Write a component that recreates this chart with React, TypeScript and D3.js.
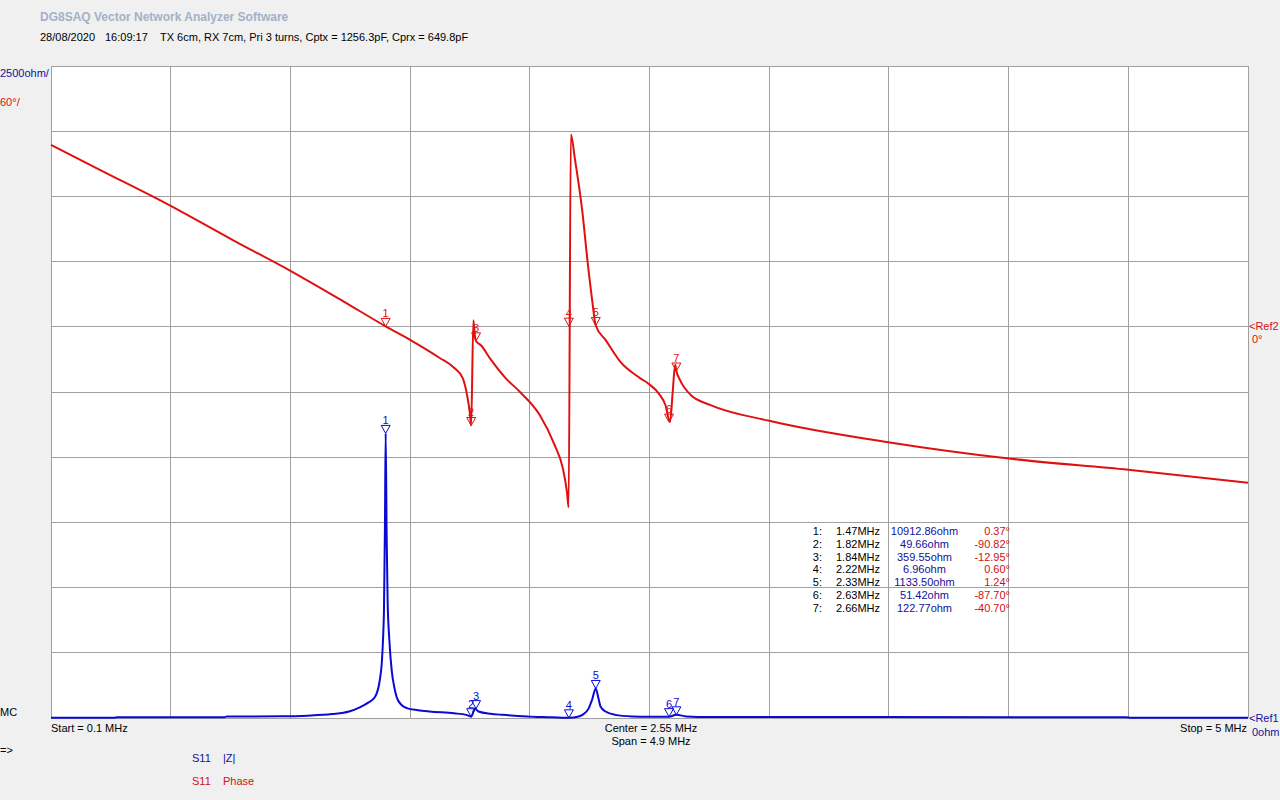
import React from 'react';
import * as d3 from 'd3';

// |Z| trace (MHz, ohm)
const zFreq = [0.1, 0.36, 0.37, 0.81, 0.82, 1.04, 1.15, 1.25, 1.32, 1.366, 1.40, 1.426, 1.445, 1.454, 1.460, 1.463, 1.467, 1.470, 1.474, 1.478, 1.485, 1.495, 1.505, 1.515, 1.535, 1.556, 1.602, 1.65, 1.75, 1.80, 1.82, 1.835, 1.85, 1.90, 1.95, 2.05, 2.15, 2.22, 2.26, 2.28, 2.30, 2.315, 2.33, 2.34, 2.35, 2.37, 2.41, 2.48, 2.55, 2.63, 2.66, 2.70, 2.75, 2.9, 3.5, 4.5, 4.52, 5.0];
const zVal = [10, 12, 30, 33, 55, 65, 90, 150, 250, 420, 600, 805, 1400, 2100, 3200, 4100, 7300, 10912, 7000, 4500, 3000, 1800, 1200, 800, 500, 380, 300, 250, 180, 120, 50, 360, 250, 160, 120, 60, 30, 7, 60, 150, 350, 700, 1133.5, 800, 430, 250, 120, 60, 45, 51, 123, 60, 40, 35, 35, 30, 10, 5];

// Phase trace (MHz, degrees)
const phFreq = [0.1, 0.3, 0.59, 0.85, 1.08, 1.3, 1.47, 1.57, 1.69, 1.75, 1.785, 1.803, 1.815, 1.82, 1.829, 1.835, 1.84, 1.86, 1.9, 1.96, 2.02, 2.1, 2.16, 2.196, 2.212, 2.219, 2.228, 2.245, 2.274, 2.298, 2.315, 2.33, 2.37, 2.43, 2.51, 2.55, 2.59, 2.615, 2.634, 2.645, 2.655, 2.66, 2.675, 2.72, 2.8, 3.04, 3.54, 4.03, 4.51, 5.0];
const phVal = [167.5, 144.5, 111.3, 79.1, 51.5, 23, 0.4, -12, -28.5, -37.7, -47, -62.6, -80, -90.8, 6, -8, -13, -17, -30, -47, -60, -81, -108, -131, -152, -166, 177, 154, 108, 57, 25, 1.24, -12, -32, -47, -53, -62, -72, -87.7, -60, -35, -40.7, -49, -63, -72, -86.5, -106.7, -121.5, -131.6, -143.6];

const markerId = [1, 2, 3, 4, 5, 6, 7];
const markerFreq = [1.47, 1.82, 1.84, 2.22, 2.33, 2.63, 2.66];
const markerZ = [10912.86, 49.66, 359.55, 6.96, 1133.5, 51.42, 122.77];
const markerPh = [0.37, -90.82, -12.95, 0.6, 1.24, -87.7, -40.7];

const BLUE = '#0a0ad2';
const BLUE_T = '#10109a';
const RED = '#e01010';
const RED_T = '#d01010';
const GRID = '#a0a0a0';
const FONT = '"Liberation Sans", Arial, sans-serif';

export default function App() {
  const left = 51, right = 1248, top = 66, bottom = 718;
  const x = d3.scaleLinear().domain([0.1, 5]).range([left, right]);
  const yZ = d3.scaleLinear().domain([0, 25000]).range([bottom, top]);
  const yP = d3.scaleLinear().domain([-360, 240]).range([bottom, top]);

  const zLine = d3.line<number>().x((_, i) => x(zFreq[i])).y((d) => yZ(d)).curve(d3.curveMonotoneX);
  const pLine = d3.line<number>().x((_, i) => x(phFreq[i])).y((d) => yP(d)).curve(d3.curveMonotoneX);

  const vGrid = d3.range(11).map((i) => left + (i * (right - left)) / 10);
  const hGrid = d3.range(11).map((i) => top + (i * (bottom - top)) / 10);

  const tri = (cx: number, cy: number) => `M${cx - 4.5},${cy - 8}L${cx + 4.5},${cy - 8}L${cx},${cy}Z`;

  const tableTop = 535;
  const rowH = 12.8;

  return (
    <svg width={1280} height={800} style={{ position: 'absolute', left: 0, top: 0, background: '#f0f0f0' }} fontFamily={FONT} fontSize={11}>
      <rect x={0} y={0} width={1280} height={800} fill="#f0f0f0" />
      <text x={40} y={21} fill="#a3b1c6" fontWeight="bold" fontSize={12}>DG8SAQ Vector Network Analyzer Software</text>
      <text x={40} y={41} fill="#000">28/08/2020</text>
      <text x={105} y={41} fill="#000">16:09:17</text>
      <text x={160} y={41} fill="#000">TX 6cm, RX 7cm, Pri 3 turns, Cptx = 1256.3pF, Cprx = 649.8pF</text>

      <rect x={left} y={top} width={right - left} height={bottom - top} fill="#fff" />
      {vGrid.map((gx, i) => (
        <line key={'v' + i} x1={gx} x2={gx} y1={top} y2={bottom} stroke={GRID} strokeWidth={1} shapeRendering="crispEdges" />
      ))}
      {hGrid.map((gy, i) => (
        <line key={'h' + i} x1={left} x2={right} y1={gy} y2={gy} stroke={GRID} strokeWidth={1} shapeRendering="crispEdges" />
      ))}

      <text x={0} y={77} fill={BLUE_T}>2500ohm/</text>
      <text x={0} y={106} fill={RED_T}>60°/</text>
      <text x={0} y={716} fill="#000">MC</text>
      <text x={0} y={754} fill="#000">=&gt;</text>

      <text x={1249} y={330} fill={RED_T}>&lt;Ref2</text>
      <text x={1252} y={343} fill={RED_T}>0°</text>
      <text x={1249} y={722} fill={BLUE_T}>&lt;Ref1</text>
      <text x={1252} y={736} fill={BLUE_T}>0ohm</text>

      <text x={51} y={732} fill="#000">Start = 0.1 MHz</text>
      <text x={651} y={732} fill="#000" textAnchor="middle">Center = 2.55 MHz</text>
      <text x={651} y={745} fill="#000" textAnchor="middle">Span = 4.9 MHz</text>
      <text x={1247} y={732} fill="#000" textAnchor="end">Stop = 5 MHz</text>

      <text x={192} y={762} fill={BLUE_T}>S11</text>
      <text x={223} y={762} fill={BLUE_T}>|Z|</text>
      <text x={192} y={785} fill={RED_T}>S11</text>
      <text x={223} y={785} fill={RED_T}>Phase</text>

      <g>
        <path d={pLine(phVal) || ''} fill="none" stroke={RED} strokeWidth={2} strokeLinejoin="round" />
        <path d={zLine(zVal) || ''} fill="none" stroke={BLUE} strokeWidth={2} strokeLinejoin="round" />
      </g>

      {markerId.map((id, i) => {
        const mx = x(markerFreq[i]);
        const myz = yZ(markerZ[i]);
        const myp = yP(markerPh[i]);
        return (
          <g key={'m' + id}>
            <path d={tri(mx, myp)} fill="none" stroke={RED} strokeWidth={1} />
            <text x={mx} y={myp - 9} fill={RED} textAnchor="middle" fontSize={11}>{id}</text>
            <path d={tri(mx, myz)} fill="none" stroke={BLUE} strokeWidth={1} />
            <text x={mx} y={myz - 9} fill={BLUE} textAnchor="middle" fontSize={11}>{id}</text>
          </g>
        );
      })}

      {markerId.map((id, i) => (
        <g key={'t' + id}>
          <text x={822} y={tableTop + i * rowH} textAnchor="end" fill="#000">{id}:</text>
          <text x={836} y={tableTop + i * rowH} fill="#000">{markerFreq[i].toFixed(2)}MHz</text>
          <text x={924.5} y={tableTop + i * rowH} textAnchor="middle" fill={BLUE_T}>{markerZ[i].toFixed(2)}ohm</text>
          <text x={1010} y={tableTop + i * rowH} textAnchor="end" fill={RED_T}>{markerPh[i].toFixed(2)}°</text>
        </g>
      ))}
    </svg>
  );
}
